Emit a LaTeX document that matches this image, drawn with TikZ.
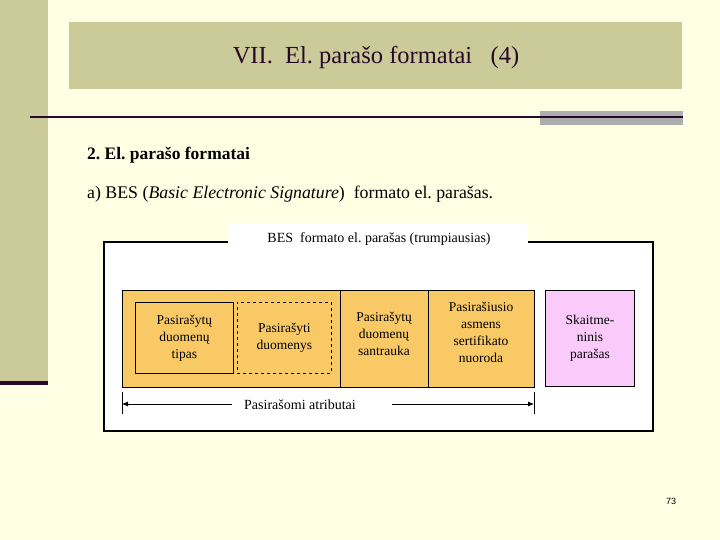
\documentclass[tikz,border=0pt]{standalone}
\usepackage{fontspec}
\setmainfont{Liberation Serif}
\newfontfamily\numfont{Liberation Sans}
\usetikzlibrary{arrows.meta}
\frenchspacing
\definecolor{bgc}{RGB}{255,255,228}
\definecolor{olive}{RGB}{203,203,154}
\definecolor{darkpurp}{RGB}{40,8,40}
\definecolor{graybar}{RGB}{173,173,173}
\definecolor{orangef}{RGB}{249,201,102}
\definecolor{pinkf}{RGB}{250,202,250}
\tikzset{
  cell/.style={draw=black, line width=0.8pt, align=center, font=\fontsize{13.5}{17}\selectfont, inner sep=0pt},
  lbl/.style={font=\fontsize{14}{16}\selectfont, inner sep=0pt},
}
\begin{document}
\begin{tikzpicture}[x=1pt,y=-1pt]
\useasboundingbox (0,0) rectangle (720,540);
\fill[bgc] (0,0) rectangle (720,540);
% sidebar
\fill[olive] (0,0) rectangle (48,382);
\fill[darkpurp] (0,381) rectangle (48,385);
% title
\node[fill=olive, minimum width=613pt, minimum height=67pt, inner sep=0pt, anchor=north west] (title) at (69,22) {};
\node[font=\fontsize{24.5}{28}\selectfont, text=darkpurp] (titletext) at (376,57) {VII.\ \ El. parašo formatai \ \ (4)};
% rule
\fill[graybar] (540,111) rectangle (683,125);
\draw[darkpurp, line width=2pt] (30,117.5) -- (683,117.5);
% headings
\node[anchor=base west, font=\fontsize{17.5}{20}\selectfont\bfseries, inner sep=0pt] (h2) at (87,160) {2. El. parašo formatai};
\node[anchor=base west, font=\fontsize{17.8}{20}\selectfont, inner sep=0pt] (ha) at (87,199) {a) BES (\textit{Basic Electronic Signature})\ \ formato el. parašas.};
% outer frame
\draw[black, line width=2pt, fill=white] (104,242) rectangle (653,431);
\node[fill=white, minimum width=300pt, minimum height=22pt, inner sep=0pt, anchor=north west] (labbg) at (228,224) {};
\node[lbl] (frametitle) at (379,239) {BES\ \ formato el. parašas (trumpiausias)};
% orange block
\fill[orangef] (122,290) rectangle (534,387);
\draw[black, line width=0.8pt] (122,290) rectangle (534,387);
\draw[black, line width=0.8pt] (340,290) -- (340,387);
\draw[black, line width=0.8pt] (428,290) -- (428,387);
\node[cell, minimum width=98pt, minimum height=71pt, anchor=north west] (c1) at (135,302) {Pasirašytų\\duomenų\\tipas};
\node[cell, dashed, minimum width=94pt, minimum height=71pt, anchor=north west] (c2) at (237,302) {Pasirašyti\\duomenys};
\node[cell, draw=none] (c3) at (384,334) {Pasirašytų\\duomenų\\santrauka};
\node[cell, draw=none] (c4) at (481,332) {Pasirašiusio\\asmens\\sertifikato\\nuoroda};
\node[cell, fill=pinkf, minimum width=89pt, minimum height=96pt, anchor=north west] (c5) at (545,290) {Skaitme-\\ninis\\parašas};
% span arrow
\coordinate (tl) at (122,392);
\coordinate (tlb) at (122,414);
\coordinate (tr) at (534,392);
\coordinate (trb) at (534,414);
\draw[black, line width=0.8pt] (tl) -- (tlb);
\draw[black, line width=0.8pt] (tr) -- (trb);
\coordinate (al) at (122,404);
\coordinate (ar) at (534,404);
\coordinate (gl) at (232,404);
\coordinate (gr) at (392,404);
\node[lbl] (span) at (300,405) {Pasirašomi atributai};
\draw[black, line width=0.8pt, -{Latex[length=6pt,width=5pt]}] (gl) -- (al);
\draw[black, line width=0.8pt, -{Latex[length=6pt,width=5pt]}] (gr) -- (ar);
% page number
\node[font=\numfont\fontsize{9}{10}\selectfont, inner sep=0pt] (pg) at (671,501) {73};
\end{tikzpicture}
\end{document}
